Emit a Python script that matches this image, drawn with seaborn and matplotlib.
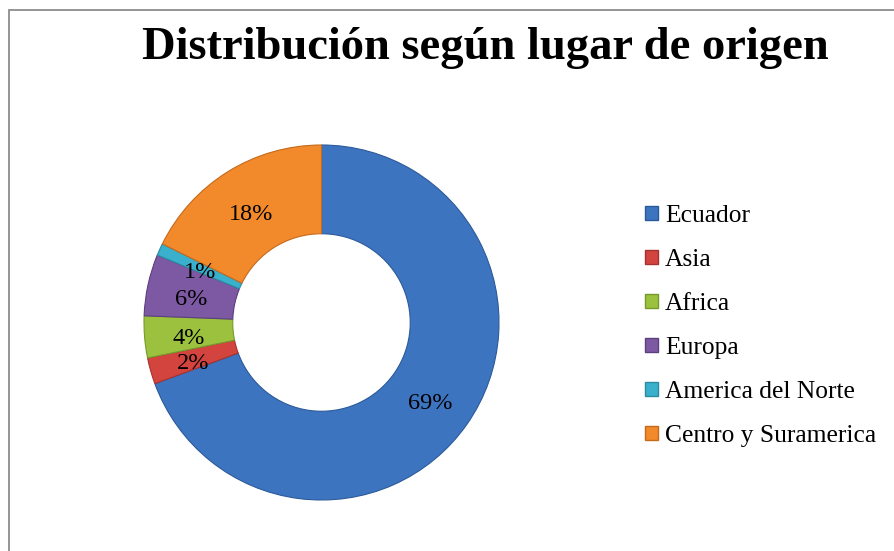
import matplotlib
matplotlib.use("Agg")
import matplotlib.pyplot as plt
import seaborn as sns
from matplotlib.patches import Rectangle, Patch

# Data
regiones = ['Ecuador', 'Asia', 'Africa', 'Europa', 'America del Norte', 'Centro y Suramerica']
porcentajes = [69.4, 2.4, 3.8, 5.6, 1.1, 17.7]
colores = ['#3D74C0', '#D4443F', '#9BC13F', '#7D58A3', '#3AB0CC', '#F28A2C']
bordes = ['#2B5A9A', '#A33330', '#769A2C', '#5C3F7F', '#2A8AA2', '#C46A1C']

sns.set_theme(style='white')
plt.rcParams['font.family'] = ['Liberation Serif', 'DejaVu Serif']
plt.rcParams['text.color'] = 'black'

W, H = 895, 551
fig = plt.figure(figsize=(W / 100, H / 100), dpi=100)

# border of the chart area (cut off at right and bottom)
fig.patches.append(Rectangle((9 / W, -0.05), 1.2, (H - 10) / H + 0.05,
                             transform=fig.transFigure, fill=False,
                             edgecolor='#8C8C8C', linewidth=1.3))

# donut: centre (321.5, 322.5) px, outer radius 177.5 px
cx, cy, R = 321.5, 322.5, 177.5
ax = fig.add_axes([(cx - R) / W, (H - cy - R) / H, 2 * R / W, 2 * R / H])
wedges, texts = ax.pie(porcentajes, colors=colores, startangle=90, counterclock=False,
                       radius=1.0, wedgeprops=dict(width=0.5, linewidth=0.8),
                       labels=[f'{p:.0f}%' for p in porcentajes],
                       labeldistance=0.75,
                       textprops=dict(fontsize=17.5, color='black', ha='center', va='center'))
for w, ec in zip(wedges, bordes):
    w.set_edgecolor(ec)
for t in texts:
    x, y = t.get_position()
    t.set_position((x, y - 0.027))
ax.set_xlim(-1, 1)
ax.set_ylim(-1, 1)
ax.set_aspect('equal')
ax.axis('off')

fig.text(485 / W, 1 - 48 / H, 'Distribución según lugar de origen',
         fontsize=33.5, fontweight='bold', ha='center', va='center')

handles = [Patch(facecolor=c, edgecolor=e, linewidth=1.0) for c, e in zip(colores, bordes)]
fig.legend(handles, regiones, loc='upper left', bbox_to_anchor=(645 / W, 1 - 205 / H),
           frameon=False, fontsize=18.4, handlelength=0.5, handleheight=0.5,
           handletextpad=0.28, labelspacing=0.86, borderpad=0, borderaxespad=0)

fig.savefig('out.png', dpi=100)
